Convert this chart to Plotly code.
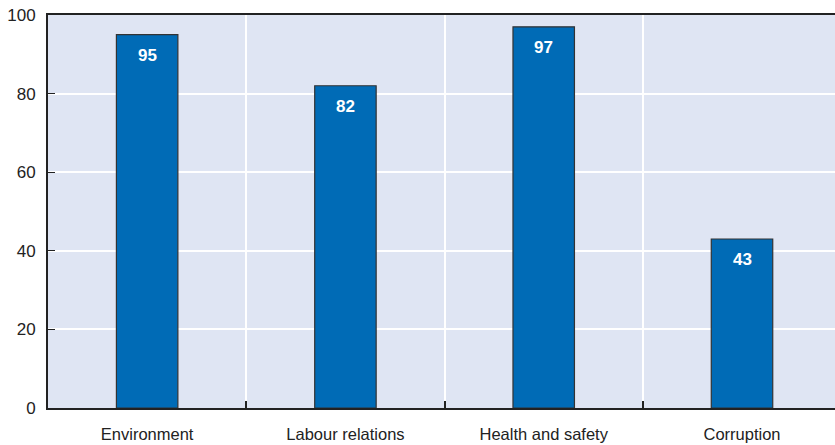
import plotly.graph_objects as go

categories = ["Environment", "Labour relations", "Health and safety", "Corruption"]
values = [95, 82, 97, 43]
y_ticks = [0, 20, 40, 60, 80, 100]

FONT = "Liberation Sans Narrow, Arial Narrow, sans-serif"
BAR_BLUE = "#006bb6"
PLOT_BG = "#dfe5f3"
AXIS = "#222222"

fig = go.Figure(
    go.Bar(
        x=categories,
        y=values,
        width=0.31,
        marker=dict(color=BAR_BLUE, line=dict(color="#333333", width=1.2)),
        hoverinfo="x+y",
    )
)

# value labels just below each bar's top
for cat, val in zip(categories, values):
    fig.add_annotation(
        x=cat, y=val, text=f"<b>{val}</b>", showarrow=False,
        yanchor="top", yshift=-9,
        font=dict(family=FONT, size=17, color="white"),
    )

fig.update_layout(
    width=835, height=445,
    margin=dict(l=48, r=0, t=15, b=37),
    paper_bgcolor="white",
    plot_bgcolor=PLOT_BG,
    showlegend=False,
    font=dict(family=FONT, size=16, color="#222222"),
)

fig.update_xaxes(
    type="category",
    range=[-0.5, 3.469],
    tickson="boundaries",
    ticks="inside", ticklen=7, tickwidth=1.5, tickcolor=AXIS,
    showgrid=True, gridcolor="white", gridwidth=1.5,
    showline=True, linecolor=AXIS, linewidth=2, mirror=True,
    tickfont=dict(family=FONT, size=16.5, color="#222222"),
    ticklabelstandoff=10,
)

fig.update_yaxes(
    range=[0, 100],
    tickvals=y_ticks,
    ticks="inside", ticklen=7, tickwidth=1, tickcolor=AXIS,
    showgrid=True, gridcolor="white", gridwidth=1.5,
    showline=True, linecolor=AXIS, linewidth=2,
    zeroline=False,
    tickfont=dict(family=FONT, size=17, color="#222222"),
    ticklabelstandoff=7,
)

fig.write_html("out.html")
